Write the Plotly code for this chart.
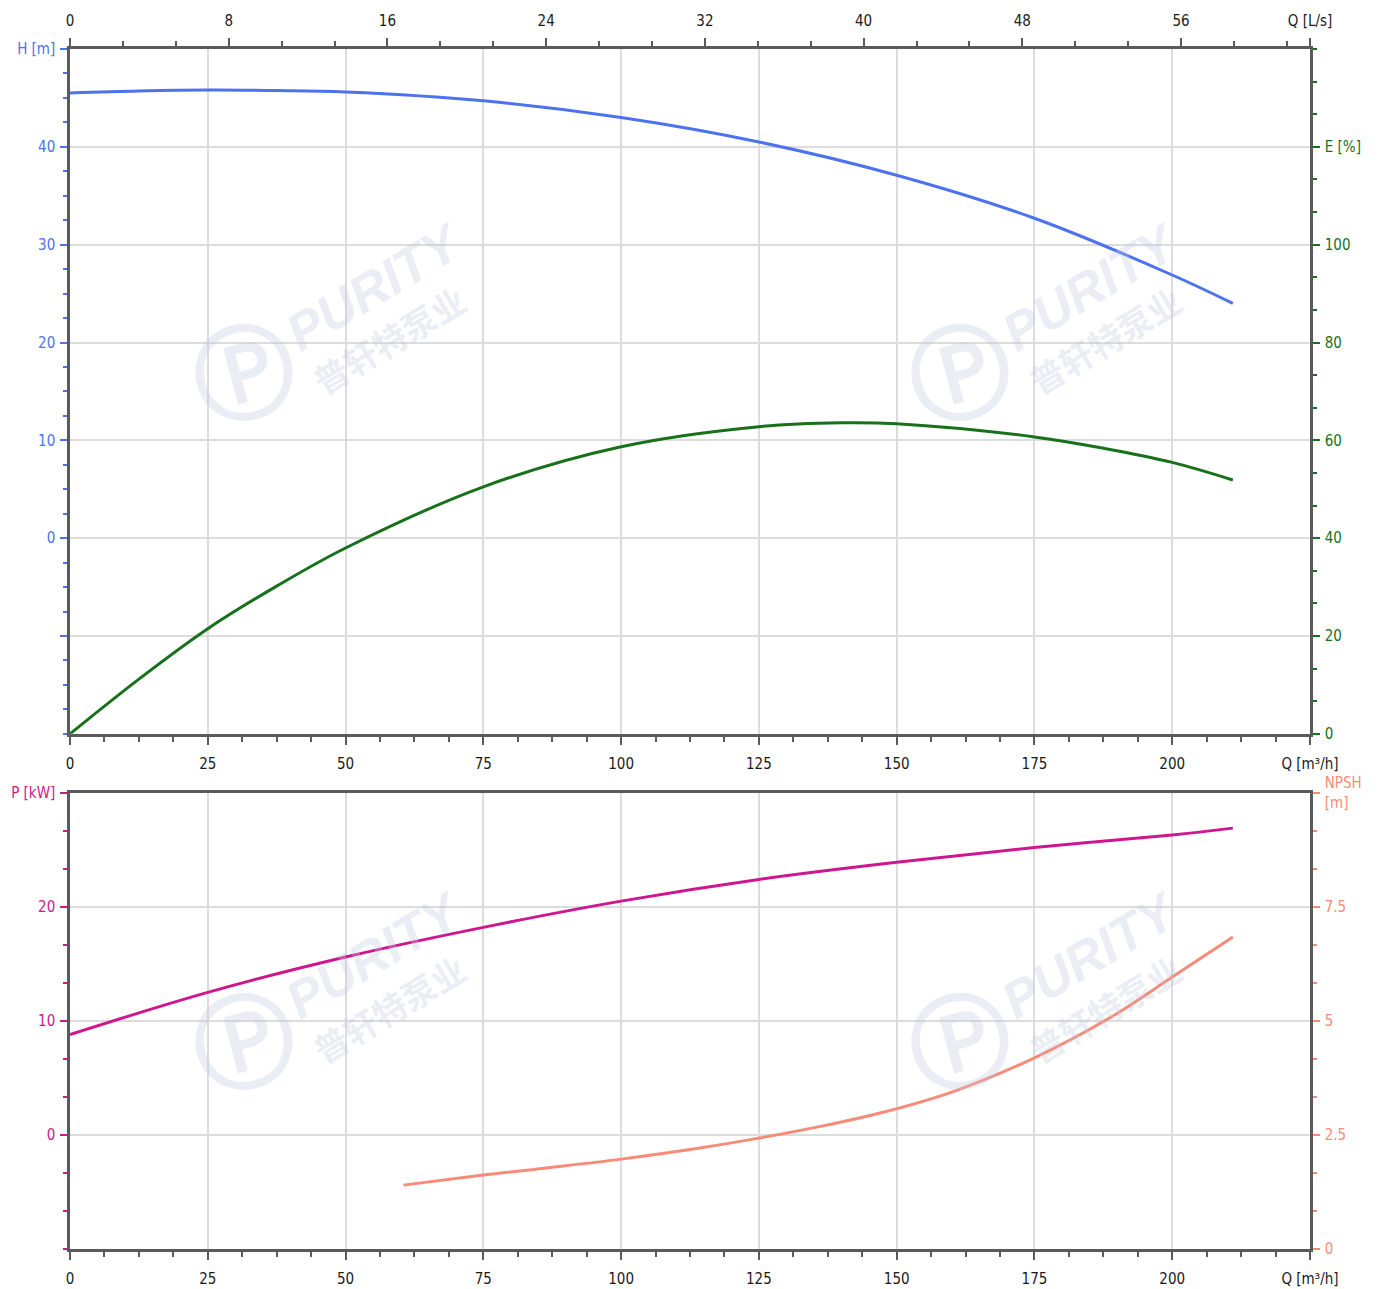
import plotly.graph_objects as go

# ---------------- data ----------------
q_h = [0, 12.5, 25, 37.5, 50, 75, 100, 125, 150, 175, 200, 211]
h_vals = [45.5, 45.7, 45.8, 45.75, 45.6, 44.7, 43.0, 40.5, 37.1, 32.7, 26.9, 24.0]

q_e = [0, 12.5, 25, 37.5, 50, 75, 100, 125, 140, 150, 175, 187.5, 200, 211]
e_vals = [0, 11.2, 21.5, 30.2, 38.0, 50.5, 58.7, 62.8, 63.6, 63.4, 60.7, 58.4, 55.5, 51.9]

q_p = [0, 25, 50, 75, 100, 125, 150, 175, 200, 211]
p_vals = [8.8, 12.5, 15.6, 18.2, 20.5, 22.4, 23.9, 25.2, 26.3, 26.9]

q_n = [60.5, 75, 87.5, 100, 112.5, 125, 137.5, 147, 160, 175, 189, 200, 211]
npsh_vals = [1.40, 1.62, 1.79, 1.97, 2.18, 2.43, 2.72, 2.98, 3.44, 4.19, 5.09, 5.96, 6.84]

q_ticks = [0, 25, 50, 75, 100, 125, 150, 175, 200, 225]
q_text = ["0", "25", "50", "75", "100", "125", "150", "175", "200", "Q [m³/h]"]
ls_ticks = [0, 8, 16, 24, 32, 40, 48, 56, 62.5]
ls_text = ["0", "8", "16", "24", "32", "40", "48", "56", "Q [L/s]"]
h_ticks = [-10, 0, 10, 20, 30, 40, 50]
h_text = ["", "0", "10", "20", "30", "40", "H [m]"]
e_ticks = [0, 20, 40, 60, 80, 100, 120]
e_text = ["0", "20", "40", "60", "80", "100", "E [%]"]
p_ticks = [0, 10, 20, 30]
p_text = ["0", "10", "20", "P [kW]"]
n_ticks = [0, 2.5, 5, 7.5, 10]
n_text = ["0", "2.5", "5", "7.5", "NPSH<br>[m]"]

# ---------------- style ----------------
FONT = "DejaVu Sans Condensed, Liberation Sans Narrow, sans-serif"
FS = 15
C_H = "#4d72ee"
C_E = "#17701a"
C_P = "#d0168e"
C_N = "#fa8a78"
AX = "#5a5a5a"
GRID = "#dcdcdc"
TXT = "#1a1a1a"

# page offset of the figure inside the html page
OFF = 6

fig = go.Figure()
fig.add_trace(go.Scatter(x=q_h, y=h_vals, mode="lines", line=dict(color=C_H, width=3, shape="spline"),
                         xaxis="x", yaxis="y", showlegend=False))
fig.add_trace(go.Scatter(x=q_e, y=e_vals, mode="lines", line=dict(color=C_E, width=3, shape="spline"),
                         xaxis="x", yaxis="y2", showlegend=False))
fig.add_trace(go.Scatter(x=[v / 3.6 for v in q_h], y=h_vals, mode="lines", line=dict(width=0),
                         xaxis="x3", yaxis="y", showlegend=False, hoverinfo="skip", opacity=0))
fig.add_trace(go.Scatter(x=q_p, y=p_vals, mode="lines", line=dict(color=C_P, width=3, shape="spline"),
                         xaxis="x2", yaxis="y3", showlegend=False))
fig.add_trace(go.Scatter(x=q_n, y=npsh_vals, mode="lines", line=dict(color=C_N, width=3, shape="spline"),
                         xaxis="x2", yaxis="y4", showlegend=False))

top_dom = [(1249 - 733) / 1202, 1.0]
bot_dom = [0.0, (1249 - 792) / 1202]

def xax(anchor, side="bottom", rng=(0, 225), tv=q_ticks, tt=q_text, mdt=6.25, grid=True):
    return dict(anchor=anchor, side=side, range=list(rng), tickmode="array", tickvals=tv, ticktext=tt,
                ticks="outside", ticklen=8, tickwidth=2, tickcolor=AX,
                minor=dict(dtick=mdt, tick0=0, ticks="outside", ticklen=5, tickwidth=1.5, tickcolor=AX, showgrid=False),
                showline=True, linecolor=AX, linewidth=2.5, showgrid=grid, gridcolor=GRID, gridwidth=1.5,
                zeroline=False, tickfont=dict(family=FONT, size=FS, color=TXT), ticklabelstandoff=6,
                automargin=False, fixedrange=True)

def yax(side, rng, tv, tt, color, mdt, domain=None, overlaying=None, anchor=None, grid=True):
    d = dict(side=side, range=list(rng), tickmode="array", tickvals=tv, ticktext=tt,
             ticks="outside", ticklen=7, tickwidth=2, tickcolor=color,
             minor=dict(dtick=mdt, tick0=0, ticks="outside", ticklen=4, tickwidth=1.5, tickcolor=color, showgrid=False),
             showline=True, linecolor=AX, linewidth=2.5, showgrid=grid, gridcolor=GRID, gridwidth=1.5,
             zeroline=False, tickfont=dict(family=FONT, size=FS, color=color), ticklabelstandoff=2,
             automargin=False, fixedrange=True)
    if domain is not None:
        d["domain"] = domain
    if overlaying is not None:
        d["overlaying"] = overlaying
    if anchor is not None:
        d["anchor"] = anchor
    return d

fig.update_layout(
    width=1381 - OFF, height=1289 - OFF,
    margin=dict(l=68 - OFF, r=73, t=47 - OFF, b=42),
    paper_bgcolor="white", plot_bgcolor="white",
    xaxis=xax("y"),
    xaxis3=dict(xax("y", side="top", rng=(0, 62.5), tv=ls_ticks, tt=ls_text, mdt=8 / 3, grid=False),
                overlaying="x"),
    xaxis2=dict(xax("y3"), mirror=True),
    yaxis=yax("left", (-20, 50), h_ticks, h_text, C_H, 2.5, domain=top_dom, anchor="x"),
    yaxis2=yax("right", (0, 140), e_ticks, e_text, C_E, 20 / 3, overlaying="y", anchor="x", grid=False),
    yaxis3=yax("left", (-10, 30), p_ticks, p_text, C_P, 10 / 3, domain=bot_dom, anchor="x2"),
    yaxis4=yax("right", (0, 10), n_ticks, n_text, C_N, 2.5 / 3, overlaying="y3", anchor="x2", grid=False),
)

# watermarks
def px2paper(x, y):
    return (x - 68) / 1243, (1249 - y) / 1202

WM = "rgba(190,200,222,0.33)"
for (dx, dy) in [(0, 0), (718, 0), (0, 670), (718, 670)]:
    items = [
        ((373 + dx, 285 + dy), "<b><i>PURITY</i></b>", "Liberation Sans, sans-serif", 52, -31),
        ((388 + dx, 338 + dy), "<b>普轩特泵业</b>", "Noto Sans CJK SC, sans-serif", 34, -31),
        ((242 + dx, 372 + dy), "<b>Ⓟ</b>", "DejaVu Sans, sans-serif", 100, -15),
    ]
    for (px, py), txt, fam, size, ang in items:
        x, y = px2paper(px, py)
        fig.add_annotation(x=x, y=y, xref="paper", yref="paper", xanchor="center", yanchor="middle",
                           text=txt, showarrow=False, textangle=ang,
                           font=dict(family=fam, size=size, color=WM))

fig.write_html("out.html")
